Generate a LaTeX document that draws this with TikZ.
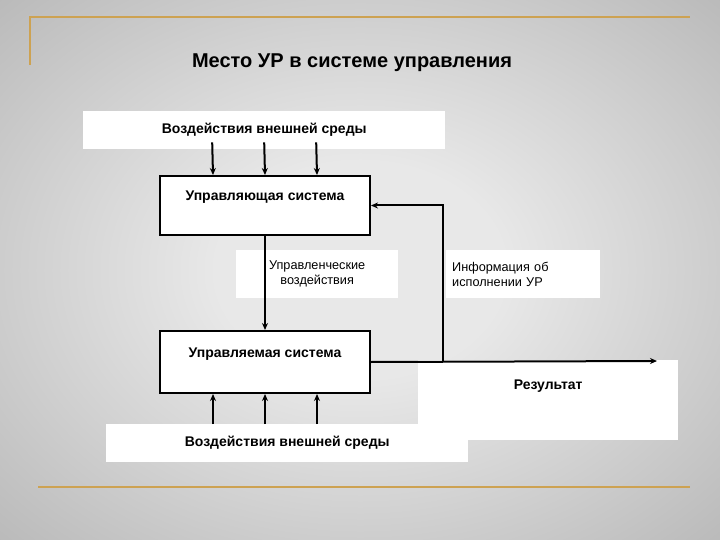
\documentclass[tikz,border=0pt]{standalone}
\usepackage{fontspec}
\setmainfont{Liberation Sans}
\usetikzlibrary{arrows.meta, positioning}

\definecolor{gold}{RGB}{205,162,82}
\definecolor{bginner}{RGB}{232,232,232}
\definecolor{bgmid}{RGB}{160,160,160}
\definecolor{bgouter}{RGB}{132,132,132}
\pgfdeclareradialshading{slidebg}{\pgfpoint{0bp}{0bp}}{%
  color(0bp)=(bginner); color(10bp)=(bginner); color(50bp)=(bgmid);
  color(72bp)=(bgouter)}

\begin{document}
\begin{tikzpicture}[
    x=1pt, y=-1pt, >={Stealth[length=7pt, width=6pt]},
    sysbox/.style={draw, line width=2pt, fill=white, minimum width=210pt,
                   anchor=north west, inner sep=0pt},
    wbox/.style={fill=white, anchor=north west, inner sep=0pt},
    arr/.style={->, line width=2pt},
    boldtxt/.style={font=\bfseries\fontsize{14}{16}\selectfont},
    smalltxt/.style={font=\fontsize{12.7}{15}\selectfont}
  ]
  % Background
  \shade[shading=slidebg] (0,0) rectangle (720,540);
  \useasboundingbox (0,0) rectangle (720,540);

  % Frame lines
  \draw[gold, line width=2.5pt] (30,65) -- (30,17) -- (690,17);
  \draw[gold, line width=2.5pt] (38,487) -- (690,487);

  % Title
  \node[font=\bfseries\fontsize{20}{24}\selectfont] (title) at (352,63)
    {Место УР в системе управления};

  % Boxes
  \node[wbox, minimum width=362pt, minimum height=38pt, boldtxt] (envtop)
    at (83,111) {Воздействия внешней среды};
  \node[sysbox, minimum height=59pt] (ctrl) at (159,175) {};
  \node[boldtxt, below=12pt of ctrl.north] (ctrltxt) {Управляющая система};
  \node[wbox, minimum width=162pt, minimum height=48pt, smalltxt,
        align=center] (acts) at (236,250) {Управленческие\\воздействия};
  \node[wbox, minimum width=154pt, minimum height=48pt, smalltxt,
        inner xsep=6pt, text width=142pt, align=left] (info) at (446,250)
    {Информация об\\исполнении УР};
  \node[sysbox, minimum height=62pt] (ctrlled) at (159,330) {};
  \node[boldtxt, below=14pt of ctrlled.north] (ctrlledtxt) {Управляемая система};
  \node[wbox, minimum width=260pt, minimum height=80pt] (res) at (418,360) {};
  \node[boldtxt, below=16pt of res.north] (restxt) {Результат};
  \node[wbox, minimum width=362pt, minimum height=38pt, boldtxt] (envbot)
    at (106,424) {Воздействия внешней среды};

  % Connections
  \coordinate (split) at (443,361);
  \coordinate (outend) at (657,361);
  \foreach \dx in {-52,0,52} {
    \draw[arr] ([xshift=\dx pt, yshift=7pt]envtop.south) -- ([xshift=\dx pt]ctrl.north);
    \draw[arr] ([xshift=\dx pt]ctrlled.south |- envbot.north) -- ([xshift=\dx pt]ctrlled.south);
  }
  \draw[arr] (ctrl.south) -- (ctrlled.north);
  \draw[arr] (ctrlled.east) -- (outend);
  \draw[arr] (split) |- (ctrl.east);
\end{tikzpicture}
\end{document}
